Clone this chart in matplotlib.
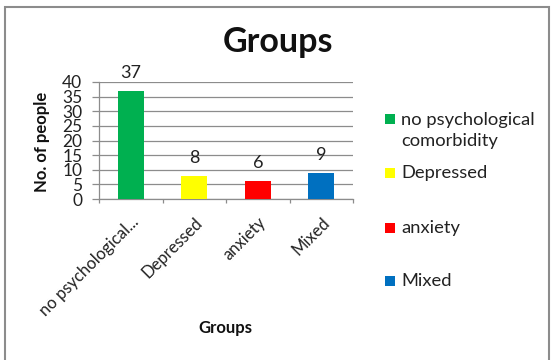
import matplotlib
matplotlib.use("Agg")
import matplotlib.pyplot as plt
from matplotlib.patches import Rectangle
import numpy as np

plt.rcParams['font.family'] = ['Lato', 'DejaVu Sans']

categorias = ['no psychological...', 'Depressed', 'anxiety', 'Mixed']
nomes_legenda = ['no psychological\ncomorbidity', 'Depressed', 'anxiety', 'Mixed']
valores = [37, 8, 6, 9]
cores = ['#00B050', '#FFFF00', '#FF0000', '#0070C0']
ticks_y = [0, 5, 10, 15, 20, 25, 30, 35, 40]

W, H = 552, 360
cinza = '#8c8c8c'

fig = plt.figure(figsize=(W / 100, H / 100), dpi=100)
# moldura do grafico (sem a borda de baixo, cortada)
fig.patches.append(Rectangle((5 / W, -0.05), 544 / W, 1.05 - 7 / H, transform=fig.transFigure,
                             fill=False, edgecolor=cinza, linewidth=1.5))

ax = fig.add_axes([99 / W, 1 - 199 / H, 254 / W, 117 / H])
x = np.arange(len(categorias))
barras = ax.bar(x, valores, width=0.41, color=cores, zorder=3)

for b, v in zip(barras, valores):
    ax.annotate(str(v), (b.get_x() + b.get_width() / 2, v), xytext=(0, 13),
                textcoords='offset points', ha='center', va='center', fontsize=13,
                color='#222222')

ax.set_xlim(-0.5, len(categorias) - 0.5)
ax.set_ylim(0, 40)
ax.set_yticks(ticks_y)
ax.set_yticklabels([str(t) for t in ticks_y], fontsize=12.5, color='#222222')
ax.tick_params(axis='y', length=5, width=0.9, color=cinza, pad=7)
ax.yaxis.grid(True, color=cinza, linewidth=0.9, zorder=0)

ax.set_xticks(x)
ax.set_xticklabels(categorias, rotation=45, ha='right', va='top', rotation_mode='anchor',
                   fontsize=12, color='#222222')
ax.tick_params(axis='x', which='major', length=0, pad=11)
ax.set_xticks(np.arange(-0.5, len(categorias)), minor=True)
ax.tick_params(axis='x', which='minor', length=3, width=0.9, color=cinza)

for lado in ['top', 'right']:
    ax.spines[lado].set_visible(False)
for lado in ['left', 'bottom']:
    ax.spines[lado].set_color(cinza)
    ax.spines[lado].set_linewidth(0.9)

fig.text(42 / W, 1 - 142 / H, 'No. of people', rotation=90, ha='center', va='center',
         fontsize=12, fontweight='bold', color='#111111')
fig.text(225 / W, 1 - 328 / H, 'Groups', ha='center', va='center',
         fontsize=12, fontweight='bold', color='#111111')
fig.text(278 / W, 1 - 42 / H, 'Groups', ha='center', va='center',
         fontsize=24.5, fontweight='bold', color='#111111')

# legenda com marcadores quadrados
ys_legenda = [130.5, 173, 228, 281]
for nome, cor, yl in zip(nomes_legenda, cores, ys_legenda):
    yq = yl - 11.5 if '\n' in nome else yl
    fig.patches.append(Rectangle((385 / W, 1 - (yq + 5) / H), 10 / W, 10 / H,
                                 transform=fig.transFigure, facecolor=cor, edgecolor='none'))
    fig.text(401 / W, 1 - yl / H, nome, ha='left', va='center', fontsize=13.2,
             color='#222222', linespacing=1.45)

fig.savefig('out.png', dpi=100)
